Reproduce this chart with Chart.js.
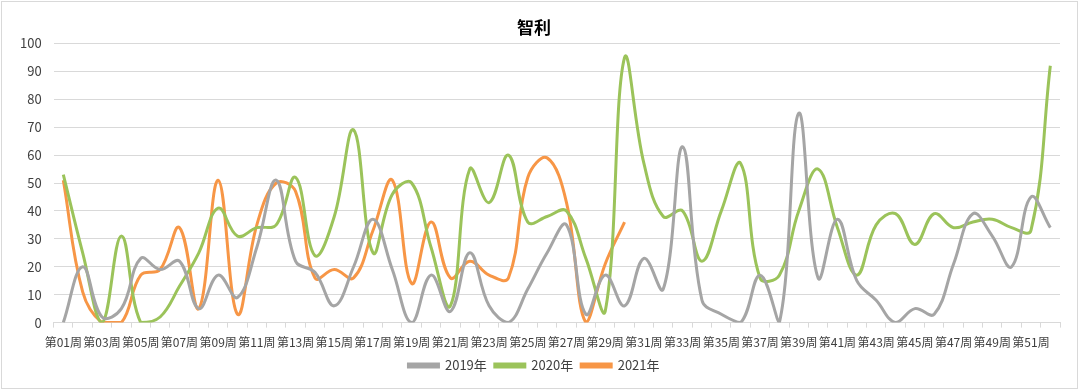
<!DOCTYPE html>
<html>
<head>
<meta charset="utf-8">
<script src="https://cdn.jsdelivr.net/npm/chart.js@4.4.1/dist/chart.umd.min.js"></script>
<style>
  html, body { margin: 0; padding: 0; background: #fff; }
  #wrap { position: relative; width: 1080px; height: 391px; }
  #frame { position: absolute; left: 1px; top: 1px; width: 1075px; height: 386px;
           border: 1px solid #d9d9d9; pointer-events: none; }
</style>
</head>
<body>
<div id="wrap">
  <canvas id="chart1" width="1080" height="391"></canvas>
  <div id="frame"></div>
</div>
<script>
// weeks 第01周 .. 第52周
const weeks = [];
for (let i = 1; i <= 52; i++) weeks.push('第' + String(i).padStart(2, '0') + '周');

const yTicks = [0, 10, 20, 30, 40, 50, 60, 70, 80, 90, 100];

const y2019 = [0, 20, 2, 5, 23, 19, 22, 5, 17, 9, 27, 51, 22, 18, 6, 20, 37, 19, 0, 17,
               4, 25, 6, 0, 12, 25, 35, 3, 17, 6, 23, 12, 63, 8, 3, 0, 17, 0, 75, 16,
               37, 15, 8, 0, 5, 3, 21, 39, 31, 20, 45, 34];
const y2020 = [53, 25, 0, 31, 0, 2, 13, 25, 41, 31, 34, 35, 52, 24, 38, 69, 25, 46, 50, 27,
               6, 55, 43, 60, 36, 38, 40, 23, 4, 95, 57, 38, 40, 22, 40, 57, 16, 17, 40, 55,
               34, 17, 35, 39, 28, 39, 34, 36, 37, 34, 33, 92];
const y2021 = [51, 11, 0, 0, 17, 19, 34, 5, 51, 3, 35, 50, 47, 16, 19, 16, 33, 51, 14, 36,
               16, 22, 17, 16, 52, 59, 43, 0, 21, 36];

const textColor = '#404040';
const gridColor = '#d9d9d9';

const chart1Ctx = document.getElementById("chart1").getContext("2d");
const chart1 = new Chart(chart1Ctx, {
    type: 'line',
    data: {
        labels: weeks,
        datasets: [{
            label: '2019年',
            data: y2019,
            borderColor: '#a5a5a5',
            backgroundColor: '#a5a5a5',
        }, {
            label: '2020年',
            data: y2020,
            borderColor: '#9bc35a',
            backgroundColor: '#9bc35a',
        }, {
            label: '2021年',
            data: y2021,
            borderColor: '#f79646',
            backgroundColor: '#f79646',
        }]
    },
    options: {
        responsive: false,
        animation: false,
        layout: { padding: { top: 11, left: 8, right: 20, bottom: 9 } },
        elements: {
            line: { borderWidth: 3, tension: 0.4, fill: false },
            point: { radius: 0, hoverRadius: 0 }
        },
        scales: {
            x: {
                offset: true,
                afterFit: (scale) => { scale.height -= 7; },
                grid: { display: true, drawOnChartArea: false, drawTicks: true, tickLength: 5, color: gridColor, offset: true },
                border: { display: true, color: gridColor },
                ticks: {
                    autoSkip: false, maxRotation: 0, minRotation: 0, padding: 8,
                    color: textColor,
                    font: { family: '"Noto Sans CJK SC", sans-serif', size: 12 },
                    callback: function (v, i) { return i % 2 === 0 ? weeks[i] : ''; }
                }
            },
            y: {
                min: 0, max: 100,
                afterBuildTicks: (scale) => { scale.ticks = yTicks.map(v => ({ value: v })); },
                grid: { color: gridColor, drawTicks: false },
                border: { display: false },
                ticks: {
                    padding: 12,
                    color: textColor,
                    font: { family: '"Noto Sans CJK SC", sans-serif', size: 13 }
                }
            }
        },
        plugins: {
            title: {
                display: true,
                text: '智利',
                color: '#000',
                font: { family: '"Noto Sans CJK SC", sans-serif', size: 17, weight: 'bold' },
                padding: { top: 6, bottom: 6 }
            },
            legend: {
                display: true,
                position: 'bottom',
                labels: {
                    boxWidth: 30, boxHeight: 3, padding: 8,
                    color: textColor,
                    font: { family: '"Noto Sans CJK SC", sans-serif', size: 13 }
                }
            },
            tooltip: { enabled: false }
        }
    }
});
</script>
</body>
</html>
